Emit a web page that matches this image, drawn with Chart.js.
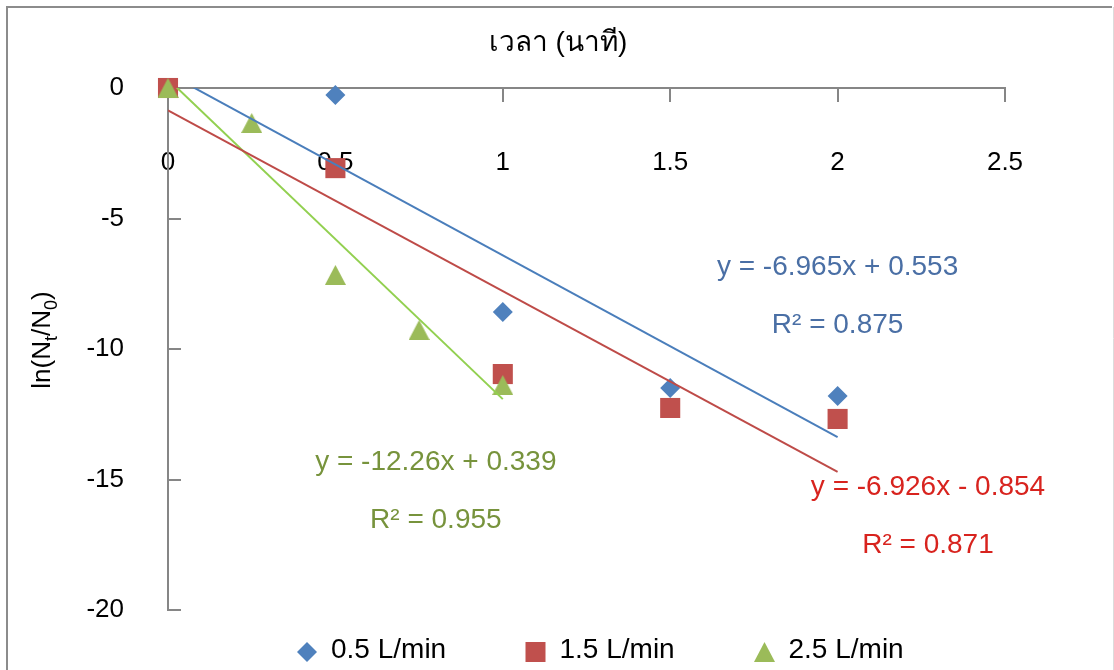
<!DOCTYPE html>
<html>
<head>
<meta charset="utf-8">
<script src="https://cdn.jsdelivr.net/npm/chart.js@4/dist/chart.umd.min.js"></script>
<style>
  html, body { margin: 0; padding: 0; background: #fff; }
  #wrap { width: 1114px; height: 670px; position: relative; }
</style>
</head>
<body>
<div id="wrap"><canvas id="chart" width="1114" height="670"></canvas></div>
<script>
// Measured ln(Nt/N0) against time (minutes) for three air flow rates
const timeMin05 = [0, 0.5, 1, 1.5, 2];
const lnRatio05 = [0, -0.27, -8.58, -11.49, -11.8];
const timeMin15 = [0, 0.5, 1, 1.5, 2];
const lnRatio15 = [0, -3.07, -10.96, -12.26, -12.68];
const timeMin25 = [0, 0.25, 0.5, 0.75, 1];
const lnRatio25 = [0, -1.34, -7.16, -9.27, -11.38];
const seriesNames = ['0.5 L/min', '1.5 L/min', '2.5 L/min'];

// Linear trend lines y = slope * x + intercept
const fitSlopes = [-6.965, -6.926, -12.26];
const fitIntercepts = [0.553, -0.854, 0.339];
const fitR2 = [0.875, 0.871, 0.955];
const fitRanges = [[0, 2], [0, 2], [0, 1]];

// Axis ticks and titles
const xTickValues = [0, 0.5, 1, 1.5, 2, 2.5];
const yTickValues = [0, -5, -10, -15, -20];
const xTitleText = 'เวลา (นาที)';

const FONT = "'Liberation Sans', Arial, 'Noto Sans', sans-serif";
const markerColors = ['#4F81BD', '#C0504D', '#9BBB59'];
const fitColors = ['#4A7EBB', '#BE4B48', '#92D050'];
const eqColors = ['#4A6FA5', '#D8231E', '#77933C'];
const AXIS_GREY = '#868686';

function triangleMarker(w, h, color) {
  const c = document.createElement('canvas');
  c.width = w; c.height = h;
  const g = c.getContext('2d');
  g.fillStyle = color;
  g.beginPath();
  g.moveTo(w / 2, 0);
  g.lineTo(w, h);
  g.lineTo(0, h);
  g.closePath();
  g.fill();
  return c;
}

function toPoints(xs, ys) {
  return xs.map((x, k) => ({ x: x, y: ys[k] }));
}

function fitDataset(i) {
  return {
    label: 'trend ' + seriesNames[i],
    data: fitRanges[i].map(x => ({ x: x, y: fitSlopes[i] * x + fitIntercepts[i] })),
    showLine: true,
    borderColor: fitColors[i],
    borderWidth: 2,
    pointRadius: 0,
    pointHoverRadius: 0,
    fill: false,
    order: 0
  };
}

function fmtEquation(i) {
  const b = fitIntercepts[i];
  const sign = b < 0 ? '- ' : '+ ';
  return 'y = ' + fitSlopes[i] + 'x ' + sign + Math.abs(b);
}

const triangle = triangleMarker(21, 20, markerColors[2]);

const datasets = [
  fitDataset(0), fitDataset(1), fitDataset(2),
  {
    label: seriesNames[0], data: toPoints(timeMin05, lnRatio05),
    pointStyle: 'rectRot', pointRadius: 10, pointHoverRadius: 10,
    backgroundColor: markerColors[0], borderWidth: 0, clip: false, order: 3
  },
  {
    label: seriesNames[1], data: toPoints(timeMin15, lnRatio15),
    pointStyle: 'rect', pointRadius: 14.2, pointHoverRadius: 14.2,
    backgroundColor: markerColors[1], borderWidth: 0, clip: false, order: 2
  },
  {
    label: seriesNames[2], data: toPoints(timeMin25, lnRatio25),
    pointStyle: triangle, pointRadius: 10, pointHoverRadius: 10,
    backgroundColor: markerColors[2], borderWidth: 0, clip: false, order: 1
  }
];

// Background, outer frame and the time axis title
const framePlugin = {
  id: 'frame',
  beforeDraw(chart, args, opts) {
    const ctx = chart.ctx;
    ctx.save();
    ctx.fillStyle = '#ffffff';
    ctx.fillRect(0, 0, chart.width, chart.height);
    ctx.strokeStyle = '#8c8c8c';
    ctx.lineWidth = 2;
    ctx.beginPath();
    ctx.moveTo(7, chart.height + 2);
    ctx.lineTo(7, 7);
    ctx.lineTo(1112, 7);
    ctx.stroke();
    ctx.strokeStyle = '#dcdcdc';
    ctx.lineWidth = 1;
    ctx.beginPath();
    ctx.moveTo(1113.5, 7);
    ctx.lineTo(1113.5, chart.height);
    ctx.stroke();
    ctx.fillStyle = '#000';
    ctx.font = opts.titleSize + 'px ' + FONT;
    ctx.textAlign = 'center';
    ctx.textBaseline = 'middle';
    ctx.fillText(xTitleText, opts.titleX, opts.titleY);
    ctx.restore();
  }
};

// Tick marks on the vertical axis pointing into the plot
const yTickMarks = {
  id: 'yTickMarks',
  beforeDatasetsDraw(chart) {
    const ctx = chart.ctx;
    const y = chart.scales.y;
    const left = chart.chartArea.left;
    ctx.save();
    ctx.strokeStyle = AXIS_GREY;
    ctx.lineWidth = 2;
    ctx.beginPath();
    yTickValues.forEach(v => {
      const py = Math.round(y.getPixelForValue(v));
      ctx.moveTo(left, py);
      ctx.lineTo(left + 13, py);
    });
    ctx.stroke();
    ctx.restore();
  }
};

// Trend line equations and R² values
const equationLabels = {
  id: 'equationLabels',
  afterDatasetsDraw(chart, args, opts) {
    const ctx = chart.ctx;
    const sx = chart.scales.x, sy = chart.scales.y;
    ctx.save();
    ctx.font = opts.fontSize + 'px ' + FONT;
    ctx.textAlign = 'center';
    ctx.textBaseline = 'middle';
    opts.anchors.forEach((a, i) => {
      ctx.fillStyle = eqColors[i];
      ctx.fillText(fmtEquation(i), sx.getPixelForValue(a.eq[0]), sy.getPixelForValue(a.eq[1]));
      ctx.fillText('R² = ' + fitR2[i], sx.getPixelForValue(a.r2[0]), sy.getPixelForValue(a.r2[1]));
    });
    ctx.restore();
  }
};

// Rotated vertical axis title with subscripts
const yTitle = {
  id: 'yTitle',
  afterDraw(chart, args, opts) {
    const ctx = chart.ctx;
    const parts = [
      ['ln(N', false], ['t', true], ['/N', false], ['0', true], [')', false]
    ];
    const mainFont = opts.size + 'px ' + FONT;
    const subFont = opts.subSize + 'px ' + FONT;
    let total = 0;
    parts.forEach(p => { ctx.font = p[1] ? subFont : mainFont; total += ctx.measureText(p[0]).width; });
    ctx.save();
    ctx.translate(opts.x, opts.y);
    ctx.rotate(-Math.PI / 2);
    ctx.fillStyle = '#000';
    ctx.textAlign = 'left';
    ctx.textBaseline = 'alphabetic';
    let cx = -total / 2;
    parts.forEach(p => {
      ctx.font = p[1] ? subFont : mainFont;
      ctx.fillText(p[0], cx, p[1] ? opts.subBaseline : opts.baseline);
      cx += ctx.measureText(p[0]).width;
    });
    ctx.restore();
  }
};

// Legend row drawn below the plot
const legendRow = {
  id: 'legendRow',
  afterDraw(chart, args, opts) {
    const ctx = chart.ctx;
    ctx.save();
    opts.centers.forEach((cx, i) => {
      const cy = opts.y;
      ctx.fillStyle = markerColors[i];
      ctx.beginPath();
      if (i === 0) {
        ctx.moveTo(cx - 10, cy); ctx.lineTo(cx, cy - 10); ctx.lineTo(cx + 10, cy); ctx.lineTo(cx, cy + 10);
        ctx.closePath(); ctx.fill();
      } else if (i === 1) {
        ctx.fillRect(cx - 10, cy - 10, 20, 20);
      } else {
        ctx.drawImage(triangle, cx - 10.5, cy - 10);
      }
      ctx.fillStyle = '#000';
      ctx.font = opts.fontSize + 'px ' + FONT;
      ctx.textAlign = 'left';
      ctx.textBaseline = 'middle';
      ctx.fillText(seriesNames[i], cx + opts.gap, opts.textY);
    });
    ctx.restore();
  }
};

new Chart(document.getElementById('chart'), {
  type: 'scatter',
  data: { datasets: datasets },
  plugins: [framePlugin, yTickMarks, equationLabels, yTitle, legendRow],
  options: {
    responsive: false,
    devicePixelRatio: 1,
    animation: false,
    events: [],
    layout: { padding: { left: 40, right: 109, top: 88, bottom: 60 } },
    plugins: {
      legend: { display: false },
      tooltip: { enabled: false },
      title: { display: false },
      frame: { titleX: 558, titleY: 43, titleSize: 28 },
      equationLabels: {
        fontSize: 28,
        anchors: [
          { eq: [2.0, -6.86], r2: [2.0, -9.08] },
          { eq: [2.27, -15.29], r2: [2.27, -17.51] },
          { eq: [0.8, -14.33], r2: [0.8, -16.55] }
        ]
      },
      yTitle: { x: 40, y: 340, size: 26, subSize: 18, baseline: 10, subBaseline: 17 },
      legendRow: { centers: [307, 535.5, 764.5], y: 652, textY: 650, gap: 24, fontSize: 28 }
    },
    scales: {
      x: {
        type: 'linear',
        min: 0, max: 2.5,
        position: { y: 0 },
        afterBuildTicks: s => { s.ticks = xTickValues.map(v => ({ value: v })); },
        ticks: {
          color: '#000',
          font: { size: 26, family: FONT },
          padding: 46,
          maxRotation: 0,
          autoSkip: false,
          callback: v => String(v)
        },
        grid: { drawOnChartArea: false, drawTicks: true, tickLength: 13, color: AXIS_GREY, lineWidth: 2 },
        border: { display: true, color: AXIS_GREY, width: 2 }
      },
      y: {
        type: 'linear',
        min: -20, max: 0,
        position: 'left',
        afterBuildTicks: s => { s.ticks = yTickValues.map(v => ({ value: v })); },
        afterFit: s => { s.width = 128; },
        ticks: {
          color: '#000',
          font: { size: 26, family: FONT },
          padding: 44,
          callback: v => String(v)
        },
        grid: { drawOnChartArea: false, drawTicks: false, color: AXIS_GREY, lineWidth: 2 },
        border: { display: true, color: AXIS_GREY, width: 2 }
      }
    }
  }
});
</script>
</body>
</html>
